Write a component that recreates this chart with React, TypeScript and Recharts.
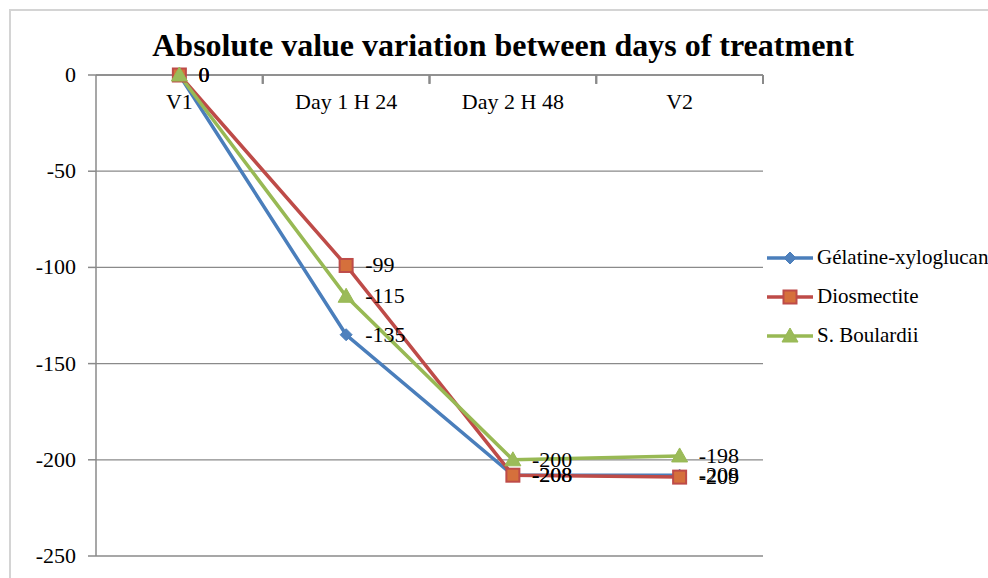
import React from 'react';
import { LineChart, Line, XAxis, YAxis, CartesianGrid, LabelList, ReferenceLine } from 'recharts';

const categories = ['V1', 'Day 1 H 24', 'Day 2 H 48', 'V2'];
const gelatine = [0, -135, -208, -208];
const diosmectite = [0, -99, -208, -209];
const boulardii = [0, -115, -200, -198];
const yTicks = [0, -50, -100, -150, -200, -250];
const seriesNames = ['Gélatine-xyloglucan', 'Diosmectite', 'S. Boulardii'];
const labelTicks = [0.5, 1.5, 2.5, 3.5];
const boundaryTicks = [1, 2, 3, 4];

const data = categories.map((c, i) => ({
  pos: i + 0.5,
  name: c,
  g: gelatine[i],
  d: diosmectite[i],
  b: boulardii[i],
}));

const FONT = '"Liberation Serif", "Times New Roman", serif';
const FS = 22;
const BLUE = '#4A7EBB';
const RED = '#BE4B48';
const GREEN = '#98B954';
const AXIS = '#8a8a8a';

const Diamond = (p: any) => {
  const { cx, cy } = p;
  if (cx == null || cy == null) return <g />;
  const s = 6;
  return <path d={`M${cx},${cy - s}L${cx + s},${cy}L${cx},${cy + s}L${cx - s},${cy}Z`} fill="#4F81BD" stroke={BLUE} strokeWidth={1} />;
};
const Square = (p: any) => {
  const { cx, cy } = p;
  if (cx == null || cy == null) return <g />;
  const s = 6.5;
  return <rect x={cx - s} y={cy - s} width={2 * s} height={2 * s} fill="#D5703C" stroke={RED} strokeWidth={2} />;
};
const Triangle = (p: any) => {
  const { cx, cy } = p;
  if (cx == null || cy == null) return <g />;
  const s = 8;
  return <path d={`M${cx},${cy - s}L${cx + s},${cy + s * 0.75}L${cx - s},${cy + s * 0.75}Z`} fill="#9BBB59" stroke={GREEN} strokeWidth={1} />;
};

const renderXTick = (props: any) => {
  const { x, y, payload, width } = props;
  const v = payload.value as number;
  const half = typeof width === 'number' && width > 0 ? width / (categories.length * 2) : 0;
  return (
    <g key={`l${v}`}>
      {half > 0 && <line x1={x + half} y1={y} x2={x + half} y2={y + 9} stroke={AXIS} strokeWidth={2} />}
      <text x={x} y={y + 34} textAnchor="middle" style={{ fontFamily: FONT, fontSize: FS }} fill="#000">
        {categories[Math.floor(v)]}
      </text>
    </g>
  );
};

const renderYTick = (props: any) => {
  const { x, y, payload } = props;
  return (
    <text key={`y${payload.value}`} x={x} y={y} dy={7} textAnchor="end" style={{ fontFamily: FONT, fontSize: FS }} fill="#000">
      {payload.value}
    </text>
  );
};

const renderLabel = (props: any) => {
  const { x, y, value } = props;
  return (
    <text x={x + 19} y={y} dy={7} textAnchor="start" style={{ fontFamily: FONT, fontSize: FS }} fill="#000">
      {value}
    </text>
  );
};

const legendItems = [
  { name: seriesNames[0], color: BLUE, shape: 'diamond' },
  { name: seriesNames[1], color: RED, shape: 'square' },
  { name: seriesNames[2], color: GREEN, shape: 'triangle' },
];

const LegendIcon = ({ color, shape }: { color: string; shape: string }) => (
  <svg width={50} height={20} style={{ display: 'block' }}>
    <line x1={2} y1={10} x2={48} y2={10} stroke={color} strokeWidth={3.5} />
    {shape === 'diamond' && <Diamond cx={25} cy={10} />}
    {shape === 'square' && <Square cx={25} cy={10} />}
    {shape === 'triangle' && <Triangle cx={25} cy={10} />}
  </svg>
);

export default function App() {
  return (
    <div style={{ position: 'absolute', left: 0, top: 0, width: 988, height: 578, background: '#fff', overflow: 'hidden' }}>
      <div style={{ position: 'absolute', left: 9, top: 9, width: 990, height: 600, border: '2px solid #d4d4d4' }} />
      <div
        style={{
          position: 'absolute',
          left: 3,
          top: 27,
          width: 1000,
          textAlign: 'center',
          fontFamily: FONT,
          fontWeight: 'bold',
          fontSize: 32,
          lineHeight: '36px',
          color: '#000',
        }}
      >
        Absolute value variation between days of treatment
      </div>
      <LineChart
        width={988}
        height={578}
        data={data}
        margin={{ top: 45, right: 225, bottom: 22, left: 0 }}
        style={{ position: 'absolute', left: 0, top: 0 }}
      >
        <CartesianGrid horizontal={true} vertical={false} stroke={AXIS} strokeWidth={1.3} />
        <XAxis
          dataKey="pos"
          type="number"
          domain={[0, 4]}
          ticks={labelTicks}
          interval={0}
          orientation="top"
          height={30}
          tickSize={0}
          tickMargin={0}
          tickLine={false}
          axisLine={{ stroke: AXIS, strokeWidth: 1.5 }}
          tick={renderXTick}
          allowDataOverflow
        />
        <YAxis
          type="number"
          domain={[-250, 0]}
          ticks={yTicks}
          interval={0}
          width={96}
          tickSize={8}
          tickMargin={12}
          axisLine={{ stroke: AXIS, strokeWidth: 1.5 }}
          tickLine={{ stroke: AXIS, strokeWidth: 1.5 }}
          tick={renderYTick}
        />
        {boundaryTicks.map((b) => (
          <ReferenceLine
            key={`b${b}`}
            segment={[{ x: b, y: 0 }, { x: b, y: -4.5 }]}
            stroke={AXIS}
            strokeWidth={2}
            ifOverflow="visible"
          />
        ))}
        <Line dataKey="g" name={seriesNames[0]} type="linear" stroke={BLUE} strokeWidth={3.5} dot={<Diamond />} activeDot={false} isAnimationActive={false}>
          <LabelList dataKey="g" content={renderLabel} />
        </Line>
        <Line dataKey="d" name={seriesNames[1]} type="linear" stroke={RED} strokeWidth={3.5} dot={<Square />} activeDot={false} isAnimationActive={false}>
          <LabelList dataKey="d" content={renderLabel} />
        </Line>
        <Line dataKey="b" name={seriesNames[2]} type="linear" stroke={GREEN} strokeWidth={3.5} dot={<Triangle />} activeDot={false} isAnimationActive={false}>
          <LabelList dataKey="b" content={renderLabel} />
        </Line>
      </LineChart>
      <div style={{ position: 'absolute', left: 765, top: 238 }}>
        {legendItems.map((it) => (
          <div key={it.name} style={{ display: 'flex', alignItems: 'center', height: 39 }}>
            <LegendIcon color={it.color} shape={it.shape} />
            <span style={{ fontFamily: FONT, fontSize: 21, color: '#000', marginLeft: 2, whiteSpace: 'nowrap' }}>{it.name}</span>
          </div>
        ))}
      </div>
    </div>
  );
}
